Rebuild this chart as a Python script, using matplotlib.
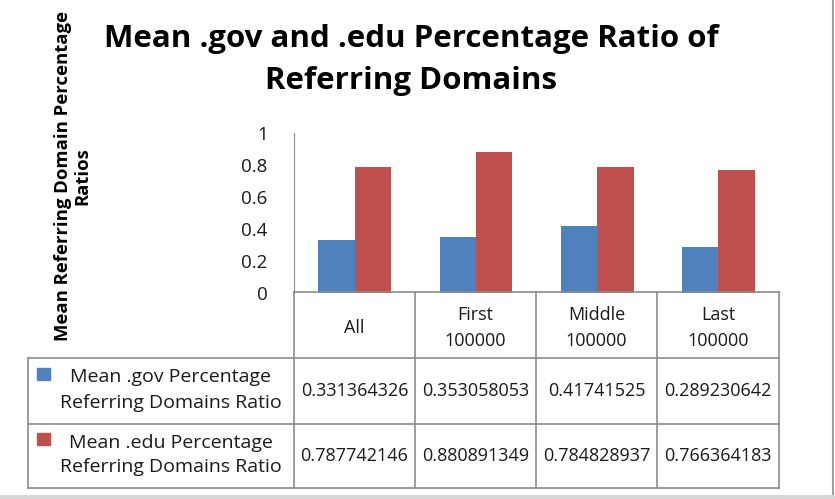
import matplotlib
matplotlib.use("Agg")
import matplotlib.pyplot as plt
from matplotlib.lines import Line2D
from matplotlib.patches import Rectangle
import numpy as np

categories = ["All", "First\n100000", "Middle\n100000", "Last\n100000"]
gov_values = [0.331364326, 0.353058053, 0.41741525, 0.289230642]
edu_values = [0.787742146, 0.880891349, 0.784828937, 0.766364183]
series_names = ["Mean .gov Percentage\nReferring Domains Ratio",
                "Mean .edu Percentage\nReferring Domains Ratio"]
yticks = [0, 0.2, 0.4, 0.6, 0.8, 1]

BLUE = "#4F81BD"
RED = "#C0504D"
GRID = "#8C8C8C"
TXT = "#1a1a1a"

W, H = 835, 499
plt.rcParams["font.family"] = ["Open Sans", "DejaVu Sans"]

fig = plt.figure(figsize=(W / 100, H / 100), dpi=100)

def fx(x):
    return x / W

def fy(y):
    return 1 - y / H

# plot area in pixel coords
x0, x1 = 294, 779
ytop, ybot = 133, 293
ax = fig.add_axes([fx(x0), fy(ybot), fx(x1) - fx(x0), fy(ytop) - fy(ybot)])
x = np.arange(len(categories))
ax.bar(x - 0.15, gov_values, width=0.3, color=BLUE)
ax.bar(x + 0.15, edu_values, width=0.3, color=RED)
ax.set_xlim(-0.5, len(categories) - 0.5)
ax.set_ylim(0, 1)
ax.set_yticks(yticks)
ax.set_yticklabels(["%g" % t for t in yticks], fontsize=13.5, color=TXT)
ax.tick_params(axis="y", length=0, pad=19)
ax.set_xticks([])
for s in ["top", "right", "bottom"]:
    ax.spines[s].set_visible(False)
ax.spines["left"].set_color(GRID)

# title
fig.text(fx(411), fy(60), "Mean .gov and .edu Percentage Ratio of\nReferring Domains",
         ha="center", va="center", fontsize=22.5, fontweight="bold", linespacing=1.5)

# y label
fig.text(fx(73), fy(176), "Mean Referring Domain Percentage\nRatios", rotation=90,
         ha="center", va="center", fontsize=13.3, fontweight="bold", linespacing=1.1)

# data table
col_x = [294, 415, 536, 657, 779]
row_y = [292, 358, 424, 488]
leg_left = 28

def line(xa, ya, xb, yb, color=GRID, lw=1.2):
    fig.add_artist(Line2D([fx(xa), fx(xb)], [fy(ya), fy(yb)], color=color, lw=lw,
                          transform=fig.transFigure))

for cx in col_x:
    line(cx, row_y[0], cx, row_y[-1])
line(leg_left, row_y[1], leg_left, row_y[-1])
line(col_x[0], row_y[0], col_x[-1], row_y[0])
for ry in row_y[1:]:
    line(leg_left, ry, col_x[-1], ry)

for i, cat in enumerate(categories):
    cxm = (col_x[i] + col_x[i + 1]) / 2
    fig.text(fx(cxm), fy((row_y[0] + row_y[1]) / 2 + 3), cat, ha="center", va="center",
             fontsize=13, color=TXT, linespacing=1.6)

rows = [gov_values, edu_values]
colors = [BLUE, RED]
for r, vals in enumerate(rows):
    ym = (row_y[r + 1] + row_y[r + 2]) / 2
    for i, v in enumerate(vals):
        cxm = (col_x[i] + col_x[i + 1]) / 2
        fig.text(fx(cxm), fy(ym), str(v), ha="center", va="center",
                 fontsize=13, color=TXT)
    fig.text(fx(171), fy(ym - 1), series_names[r], ha="center", va="center",
             fontsize=14, color=TXT, linespacing=1.5)
    fig.add_artist(Rectangle((fx(37), fy(ym - 11)), fx(13), fy(0) - fy(12),
                             color=colors[r], transform=fig.transFigure))

# chart area border
line(833, 0, 833, 497, color="#A0A0A0", lw=1.5)
line(0, 497, 833, 497, color="#D8D8D8", lw=3)

fig.savefig("out.png", dpi=100)
